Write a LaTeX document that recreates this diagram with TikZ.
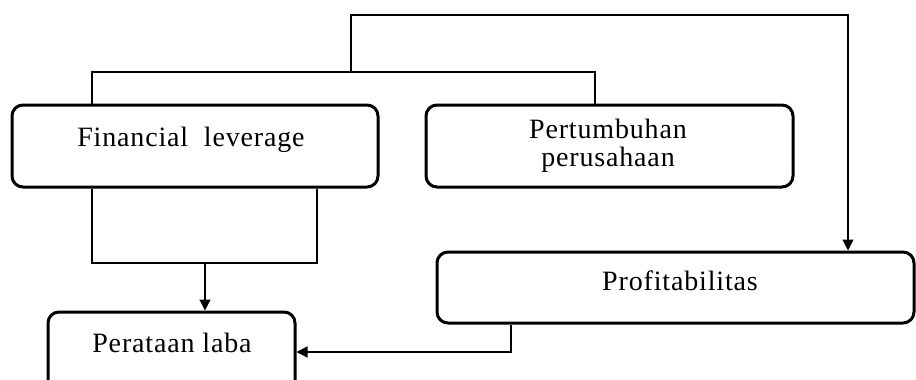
\documentclass[tikz,border=0pt]{standalone}
\usepackage{fontspec}
\setmainfont[LetterSpace=3]{Liberation Serif}
\usetikzlibrary{arrows.meta}
\tikzset{
  box/.style={draw=black, line width=3pt, rounded corners=11pt, inner sep=0pt},
  lbl/.style={font=\fontsize{28}{28}\selectfont, align=center},
  conn/.style={draw=black, line width=1.2pt},
  arr/.style={conn, -{Triangle[width=11pt,length=11pt]}}
}
\begin{document}
\begin{tikzpicture}[x=1pt,y=-1pt]
\useasboundingbox (0,0) rectangle (916,380);
\clip (0,0) rectangle (916,380);
\node[box, minimum width=366pt, minimum height=82pt] (fl) at (195,146) {};
\node[lbl] (fltext) at (191,140) {Financial\ \ leverage};
\node[box, minimum width=367pt, minimum height=82pt] (pp) at (609.5,146) {};
\node[lbl] (pptext) at (608,146) {Pertumbuhan\\perusahaan};
\node[box, minimum width=477pt, minimum height=71pt] (prof) at (675.5,287.5) {};
\node[lbl] (proftext) at (680,281) {Profitabilitas};
\node[box, minimum width=247pt, minimum height=84pt] (pl) at (171.5,354) {};
\node[lbl] (pltext) at (172,343) {Perataan laba};
% top bus
\coordinate (b1) at (92,72);
\coordinate (b2) at (595,72);
\draw[conn] (fl.north -| b1) -- (b1) -- (b2) -- (pp.north -| b2);
\coordinate (t1) at (351,72);
\coordinate (t3) at (848,15);
\draw[arr] (t1) |- (t3) -- (prof.north -| t3);
% bottom of financial leverage
\coordinate (l1) at (92,263);
\coordinate (l2) at (317,263);
\draw[conn] (fl.south -| l1) -- (l1) -- (l2) -- (fl.south -| l2);
\coordinate (m) at (205,263);
\draw[arr] (m) -- (pl.north -| m);
% profitabilitas to perataan laba
\coordinate (r) at (511,352);
\draw[arr] (prof.south -| r) -- (r) -- (pl.east |- r);
\end{tikzpicture}
\end{document}
